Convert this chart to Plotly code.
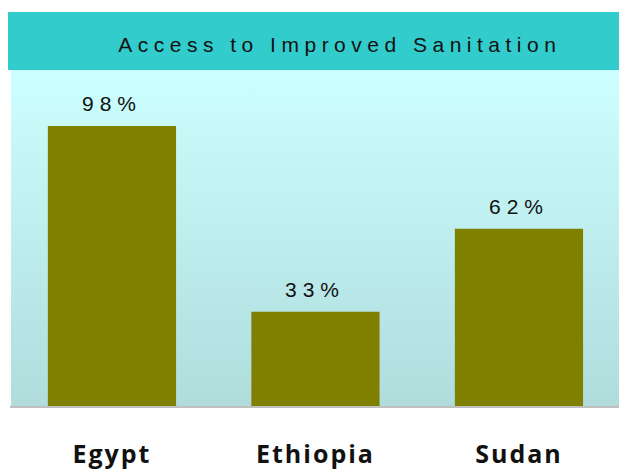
import base64
import plotly.graph_objects as go

countries = ["Egypt", "Ethiopia", "Sudan"]
access_pct = [98, 33, 62]
value_labels = ["98%", "33%", "62%"]
title_text = "Access to Improved Sanitation"

W, H = 619, 470
L, R, T, B = 10, 0, 70, 64

svg = ('<svg xmlns="http://www.w3.org/2000/svg" width="100" height="100" preserveAspectRatio="none">'
       '<defs><linearGradient id="g" x1="0" y1="0" x2="0" y2="1">'
       '<stop offset="0" stop-color="#CCFFFF"/><stop offset="1" stop-color="#B0DCDC"/>'
       '</linearGradient></defs><rect width="100" height="100" fill="url(#g)"/></svg>')
svg_uri = "data:image/svg+xml;base64," + base64.b64encode(svg.encode()).decode()

fig = go.Figure()
fig.add_trace(go.Bar(
    x=countries, y=access_pct, width=0.63,
    marker=dict(color="#808000", line=dict(width=0)),
    hoverinfo="skip",
))

for c, v, lab in zip(countries, access_pct, value_labels):
    fig.add_annotation(x=c, y=v, text=lab, showarrow=False, xanchor="center",
                       yanchor="bottom", yshift=9,
                       font=dict(family="Liberation Sans, Arial", size=21, color="#111111"))

plot_h = H - T - B
fig.add_shape(type="rect", xref="paper", yref="paper", x0=-2/609, x1=1.0,
              y0=1.0, y1=1 + 58/plot_h, fillcolor="#33CCCC", line=dict(width=0), layer="below")
fig.add_annotation(xref="paper", yref="paper", x=(340 - L) / 609, y=(406 - 44) / plot_h,
                   text=title_text, showarrow=False, xanchor="center", yanchor="middle",
                   font=dict(family="Liberation Sans, Arial", size=21, color="#111111"))

fig.add_layout_image(dict(source=svg_uri, xref="paper", yref="paper", x=1/609, y=1,
                          sizex=1, sizey=1, xanchor="left", yanchor="top",
                          sizing="stretch", layer="below"))

fig.update_layout(
    width=W, height=H,
    margin=dict(l=L, r=R, t=T, b=B, pad=0),
    paper_bgcolor="white", plot_bgcolor="rgba(0,0,0,0)",
    showlegend=False, bargap=0.37,
    xaxis=dict(range=[-0.501, 2.4916], showline=True, linecolor="#C0C0C0", linewidth=2,
               showgrid=False, zeroline=False, ticks="", ticklabelstandoff=25,
               tickfont=dict(family="Open Sans, DejaVu Sans", size=25, color="#111111", weight="bold")),
    yaxis=dict(range=[0, 117.6], visible=False, showgrid=False, zeroline=False),
)

post = """
document.querySelectorAll('.annotation-text').forEach(function(t){
  t.style.letterSpacing = (t.textContent.indexOf('%') >= 0) ? '6px' : '5.5px';
});
document.querySelectorAll('.xtick text').forEach(function(t){
  t.style.letterSpacing = '2px';
});
"""
fig.write_html("out.html", config={"displayModeBar": False}, post_script=post)
